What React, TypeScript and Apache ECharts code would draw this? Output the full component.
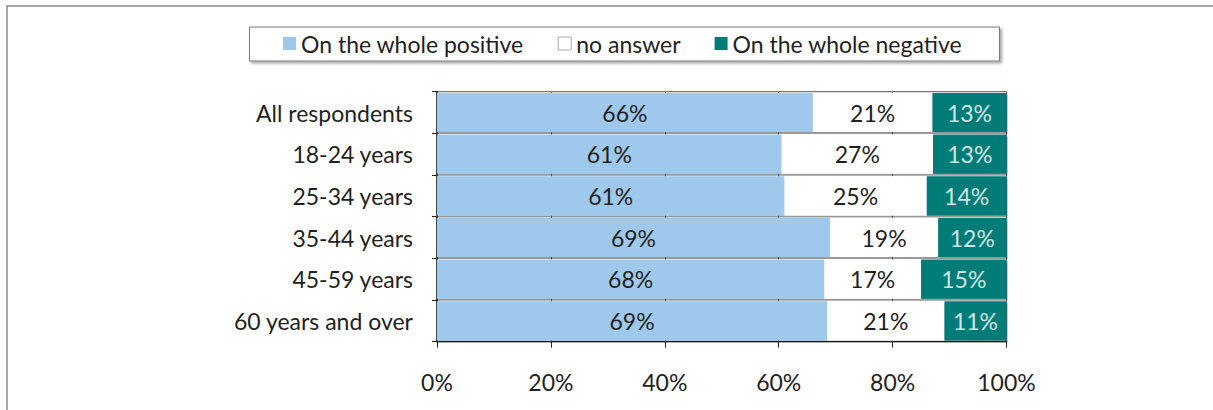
import React, { useEffect, useRef } from "react";
import * as echarts from "echarts";

const categories = [
  "All respondents",
  "18-24 years",
  "25-34 years",
  "35-44 years",
  "45-59 years",
  "60 years and over",
];
const positive = [66, 60.5, 61, 69, 68, 68.5];
const noAnswer = [21, 26.6, 25, 19, 17, 20.6];
const negative = [13, 12.9, 14, 12, 15, 10.9];
const seriesNames = ["On the whole positive", "no answer", "On the whole negative"];
const xTicks = [0, 20, 40, 60, 80, 100];

const FONT = "Lato";
const FS = 23;
const TEXT = "#231f20";

export default function App() {
  const ref = useRef<HTMLDivElement>(null);
  useEffect(() => {
    document.body.style.margin = "0";
    if (!ref.current) return;
    const chart = echarts.init(ref.current, null, { renderer: "svg" });
    const shadow = {
      shadowColor: "rgba(0,0,0,0.4)",
      shadowOffsetX: 1,
      shadowOffsetY: 2,
      shadowBlur: 1,
    };
    const label = (color: string) => ({
      show: true,
      position: "inside" as const,
      color,
      fontFamily: FONT,
      fontSize: FS,
      formatter: (p: any) => Math.round(p.value) + "%",
    });
    chart.setOption({
      animation: false,
      textStyle: { fontFamily: FONT },
      graphic: [
        {
          type: "rect",
          shape: { x: 7, y: 6, width: 1230, height: 430 },
          style: { fill: "none", stroke: "#8a8a8a", lineWidth: 1.5 },
          silent: true,
          z: -10,
        },
        {
          type: "rect",
          shape: { x: 249.5, y: 27, width: 750, height: 34 },
          style: {
            fill: "#fff",
            stroke: "#7a7a7a",
            lineWidth: 1,
            shadowColor: "rgba(0,0,0,0.35)",
            shadowOffsetX: 2,
            shadowOffsetY: 2,
            shadowBlur: 3,
          },
          silent: true,
          z: -5,
        },
      ],
      legend: {
        left: 283,
        top: 32,
        padding: 0,
        itemWidth: 13,
        itemHeight: 13,
        itemGap: 34,
        icon: "rect",
        textStyle: { fontFamily: FONT, fontSize: FS, color: TEXT },
        data: [
          { name: seriesNames[0] },
          { name: seriesNames[1], itemStyle: { borderColor: "#aaa", borderWidth: 1 } },
          { name: seriesNames[2] },
        ],
      },
      grid: {
        left: 437,
        right: 206.5,
        top: 91.7,
        bottom: 68.3,
        show: true,
        borderColor: "#555",
        borderWidth: 1,
        backgroundColor: "transparent",
      },
      xAxis: {
        type: "value",
        min: xTicks[0],
        max: xTicks[xTicks.length - 1],
        interval: 20,
        axisLine: { show: true, lineStyle: { color: "#222", width: 1 } },
        axisTick: { show: true, length: 6, lineStyle: { color: "#222" } },
        splitLine: { show: true, lineStyle: { color: "#777", width: 1 } },
        axisLabel: {
          formatter: "{value}%",
          color: TEXT,
          fontFamily: FONT,
          fontSize: FS,
          margin: 29,
        },
      },
      yAxis: {
        type: "category",
        inverse: true,
        data: categories,
        axisLine: { show: true, lineStyle: { color: "#222", width: 1.5 } },
        axisTick: { show: true, length: 5, lineStyle: { color: "#222" } },
        axisLabel: { color: TEXT, fontFamily: FONT, fontSize: FS, margin: 24 },
      },
      series: [
        {
          name: seriesNames[0],
          type: "bar",
          stack: "total",
          barCategoryGap: "6%",
          data: positive,
          itemStyle: { color: "#9fc9ec", ...shadow },
          label: label(TEXT),
        },
        {
          name: seriesNames[1],
          type: "bar",
          stack: "total",
          data: noAnswer,
          itemStyle: { color: "#ffffff", ...shadow },
          label: label(TEXT),
        },
        {
          name: seriesNames[2],
          type: "bar",
          stack: "total",
          data: negative,
          itemStyle: { color: "#007b78", ...shadow },
          label: label("#d0e6e5"),
        },
      ],
    });
    return () => chart.dispose();
  }, []);
  return <div ref={ref} style={{ width: 1213, height: 410 }} />;
}
